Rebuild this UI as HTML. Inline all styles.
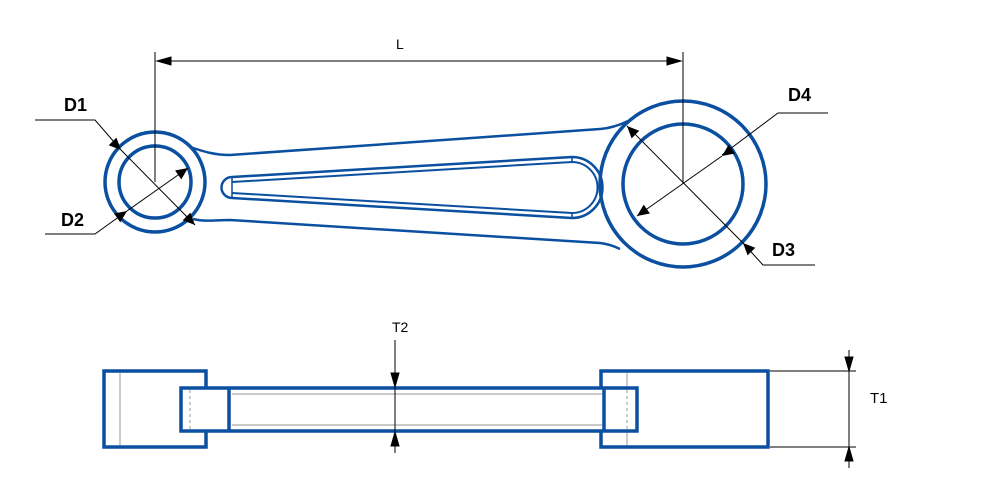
<!DOCTYPE html>
<html><head><meta charset="utf-8"><style>
html,body{margin:0;padding:0;background:#fff;}
svg{display:block;}
text{font-family:"Liberation Sans",sans-serif;}
</style></head><body>
<svg width="1007" height="496" viewBox="0 0 1007 496" xmlns="http://www.w3.org/2000/svg">
<defs>
<marker id="a" viewBox="0 0 10 10" refX="10" refY="5" markerWidth="17" markerHeight="12" markerUnits="userSpaceOnUse" orient="auto"><path d="M0,0.5 L10,5 L0,9.5 Z" fill="#000"/></marker>
</defs>
<g fill="none" stroke="#0a4fa0">
<!-- shank edges -->
<path d="M190,147 C205,152 215,155 230,155 L600,129 C612,128 620,125 628,121" stroke-width="2.5"/>
<path d="M193,219 C205,222 215,220 230,220 L600,243 C608,244 614,246 620,249" stroke-width="2.5"/>
<!-- slot outer -->
<path d="M232,177 L572,157 A30,30 0 0 1 572,218 L232,198 A10.5,10.5 0 0 1 232,177 Z" stroke-width="2.5"/>
<!-- slot inner -->
<path d="M232,182 L572,162 A25.5,25.5 0 0 1 572,213 L232,193" stroke-width="2"/>
<path d="M232,177 L232,198 M572,157 L572,162 M572,213 L572,218" stroke-width="1.5"/>
<!-- small end -->
<circle cx="155" cy="182" r="50" stroke-width="3.5"/>
<circle cx="155" cy="182" r="36" stroke-width="3.5"/>
<!-- big end -->
<circle cx="683" cy="184" r="83" stroke-width="3.5"/>
<circle cx="683" cy="184" r="60" stroke-width="3.5"/>
</g>
<!-- dimension lines top -->
<g stroke="#000" stroke-width="1" fill="none">
<line x1="155" y1="52" x2="155" y2="182"/>
<line x1="683" y1="52" x2="683" y2="184"/>
<line x1="160" y1="61" x2="678" y2="61"/>
<path d="M157,61 l14,-4 v8 z M681,61 l-14,-4 v8 z" fill="#000"/>
<!-- D1 -->
<polyline points="35,120 95,120 121,150"/>
<line x1="121" y1="150" x2="195" y2="225" marker-start="url(#a)" marker-end="url(#a)"/>
<!-- D2 -->
<polyline points="45,234 95,234 127,211"/>
<line x1="127" y1="211" x2="188" y2="168" marker-start="url(#a)" marker-end="url(#a)"/>
<!-- D4 -->
<polyline points="828,113 778,113 722,155"/>
<line x1="722" y1="156" x2="637" y2="216" marker-start="url(#a)" marker-end="url(#a)"/>
<!-- D3 -->
<polyline points="815,265 763,265 743,243"/>
<line x1="743" y1="243" x2="627" y2="126" marker-start="url(#a)" marker-end="url(#a)"/>
</g>
<text x="396" y="49" font-size="14">L</text>
<text x="64" y="111" font-size="18" font-weight="bold">D1</text>
<text x="61" y="226" font-size="18" font-weight="bold">D2</text>
<text x="788" y="101" font-size="18" font-weight="bold">D4</text>
<text x="772" y="256" font-size="18" font-weight="bold">D3</text>

<!-- bottom view -->
<g stroke="#aaaaaa" stroke-width="1.2" fill="none">
<line x1="120" y1="371" x2="120" y2="447"/>
<line x1="190" y1="371" x2="190" y2="447"/>
<line x1="627" y1="371" x2="627" y2="447"/>
</g>
<g fill="#fff" stroke="#0a4fa0" stroke-width="3.5">
<rect x="104" y="371" width="102" height="76"/>
<rect x="601" y="371" width="167" height="76"/>
</g>
<g stroke="#aaaaaa" stroke-width="1.2" fill="none">
<line x1="120" y1="373" x2="120" y2="445"/>
<line x1="627" y1="373" x2="627" y2="445"/>
</g>
<g fill="none" stroke="#0a4fa0" stroke-width="3.5">
<rect x="181" y="388" width="456" height="43" fill="#fff"/>
<line x1="229" y1="388" x2="229" y2="431"/>
<line x1="604" y1="388" x2="604" y2="431"/>
</g>
<g stroke="#aaaaaa" stroke-width="1.2" fill="none">
<line x1="190" y1="390" x2="190" y2="429" stroke-dasharray="3,3"/>
<line x1="232" y1="394" x2="602" y2="394"/>
<line x1="232" y1="425" x2="602" y2="425"/>
<line x1="627" y1="390" x2="627" y2="429" stroke-dasharray="3,3"/>
</g>
<g stroke="#000" stroke-width="1" fill="none">
<line x1="395" y1="340" x2="395" y2="453"/>
<path d="M395,387 l-4,-14 h8 z M395,432 l-4,14 h8 z" fill="#000"/>
<line x1="770" y1="371" x2="856" y2="371"/>
<line x1="770" y1="447" x2="856" y2="447"/>
<line x1="849" y1="350" x2="849" y2="468"/>
<path d="M849,371 l-4,-14 h8 z M849,447 l-4,14 h8 z" fill="#000"/>
</g>
<text x="392" y="332" font-size="14">T2</text>
<text x="870" y="403" font-size="15">T1</text>
</svg>
</body></html>
